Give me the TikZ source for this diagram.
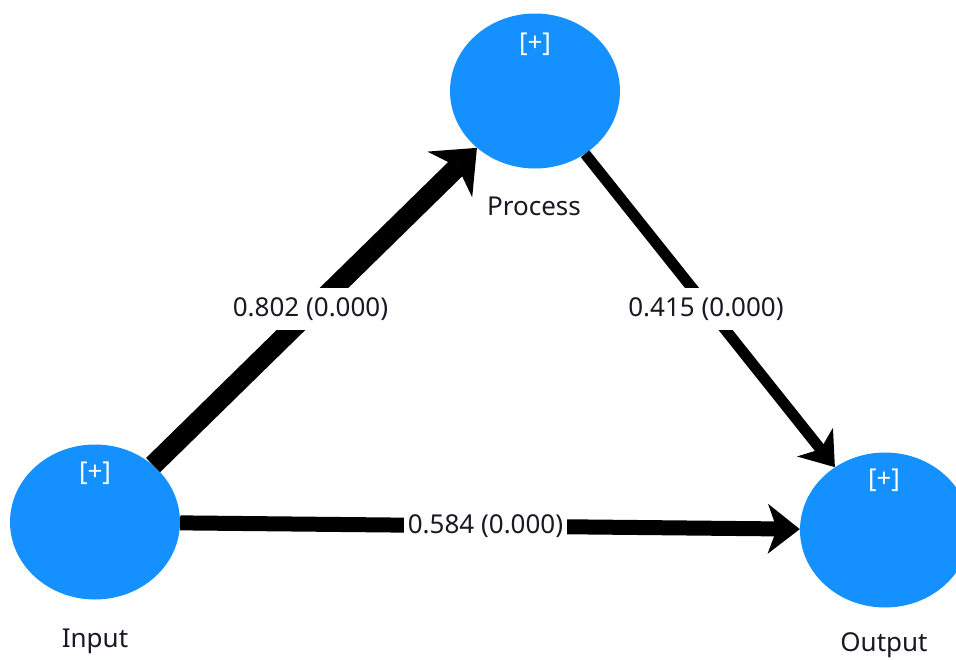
\documentclass[tikz,border=0pt]{standalone}
\usepackage{fontspec}
\setmainfont{Noto Sans}
\usetikzlibrary{arrows.meta,shapes.geometric}
\definecolor{nodeblue}{RGB}{20,145,255}
\definecolor{txt}{RGB}{25,25,35}
\tikzset{
  circ/.style={ellipse,fill=nodeblue,draw=none,minimum width=170pt,minimum height=155pt,inner sep=0pt},
  plus/.style={text=white,font=\fontsize{26}{30}\selectfont,inner sep=0pt},
  nlbl/.style={text=txt,font=\fontsize{26}{30}\selectfont,inner sep=0pt,anchor=base},
  elbl/.style={fill=white,text=txt,font=\fontsize{26}{30}\selectfont,inner xsep=4pt,inner ysep=0pt,minimum height=42pt},
  conn/.style={draw=black,line cap=butt},
}
\begin{document}
\begin{tikzpicture}[x=1pt,y=-1pt]
\useasboundingbox (0,0) rectangle (956,659);
\node[circ] (pr) at (535,91) {};
\node[circ] (in) at (95,522) {};
\node[circ] (out) at (885,530) {};
\node[plus] (prplus) at (535,44) {[+]};
\node[plus] (inplus) at (95,473.5) {[+]};
\node[plus] (outplus) at (884,480) {[+]};
\node[nlbl] (prlbl) at (534,215) {Process};
\node[nlbl] (inlbl) at (95,647) {Input};
\node[nlbl] (outlbl) at (884,651) {Output};
\draw[conn,line width=20pt,-{Stealth[length=38pt,width=64pt,inset=11pt,line width=0pt]}] (in) -- (pr);
\draw[conn,line width=11pt,-{Stealth[length=32pt,width=46pt,inset=9pt,line width=0pt]}] (pr) -- (out);
\draw[conn,line width=15pt,-{Stealth[length=32pt,width=50pt,inset=9pt,line width=0pt]}] (in) -- (out);
\node[elbl] (l1) at (310.5,309) {0.802 (0.000)};
\node[elbl] (l2) at (706,309) {0.415 (0.000)};
\node[elbl] (l3) at (485.5,526) {0.584 (0.000)};
\end{tikzpicture}
\end{document}
